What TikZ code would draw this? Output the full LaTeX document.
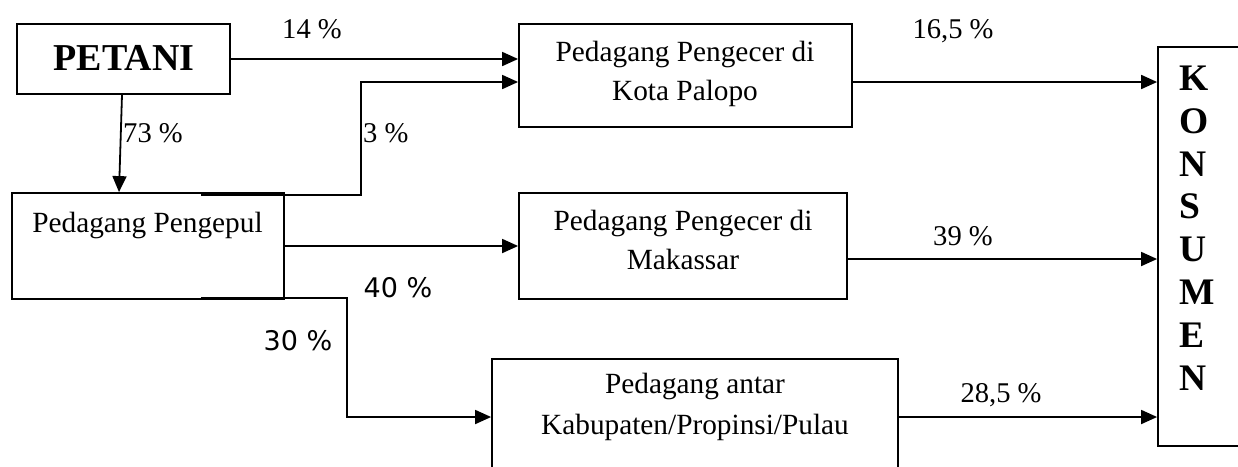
\documentclass[tikz,border=0pt]{standalone}
\usepackage{fontspec}
\setmainfont{Liberation Serif}
\newfontfamily\sansf{DejaVu Sans}
\usetikzlibrary{arrows.meta,calc}
\tikzset{
  box/.style={draw, line width=1.8pt, rectangle, inner sep=0pt},
  conn/.style={line width=1.8pt},
  arr/.style={conn, -{Triangle[length=16pt,width=14pt]}},
  txt/.style={inner sep=0pt, font=\fontsize{28.6}{34}\selectfont},
  btext/.style={inner sep=0pt, font=\fontsize{29.3}{34}\selectfont},
  stxt/.style={inner sep=0pt, font=\sansf\fontsize{27}{32}\selectfont},
  btxt/.style={inner sep=0pt, font=\bfseries\fontsize{37.5}{42.9}\selectfont},
}
\begin{document}
\begin{tikzpicture}[x=1pt,y=-1pt]
\useasboundingbox (0,0) rectangle (1238,466);
\clip (0,0) rectangle (1238,466);
% boxes
\node[box, minimum width=213pt, minimum height=70pt] (petani) at (123.5,59) {};
\node[box, minimum width=272pt, minimum height=106pt] (pengepul) at (148,246) {};
\node[box, minimum width=333pt, minimum height=103pt] (kota) at (685.5,75.5) {};
\node[box, minimum width=328pt, minimum height=106pt] (makassar) at (683,246) {};
\node[box, minimum width=406pt, minimum height=121pt] (antar) at (695,419.5) {};
\node[box, minimum width=92pt, minimum height=399pt] (konsumen) at (1204,246.5) {};
% box texts
\node[inner sep=0pt, anchor=base, font=\bfseries\fontsize{38}{40}\selectfont] (tpetani) at (124,70) {PETANI};
\node[btext, anchor=base] (tpengepul) at (147.5,232) {Pedagang Pengepul};
\node[btext, anchor=base] (tkota1) at (685,61) {Pedagang Pengecer di};
\node[btext, anchor=base] (tkota2) at (685,100) {Kota Palopo};
\node[btext, anchor=base] (tmak1) at (683,230) {Pedagang Pengecer di};
\node[btext, anchor=base] (tmak2) at (683,269) {Makassar};
\node[btext, anchor=base] (tantar1) at (695,393) {Pedagang antar};
\node[btext, anchor=base] (tantar2) at (695,434) {Kabupaten/Propinsi/Pulau};
\node[btxt, anchor=north west, align=left] (tkons) at (1179,65.5) {K\\O\\N\\S\\U\\M\\E\\N};
% connectors
\draw[arr] (petani.east) -- (petani.east -| kota.west);
\draw[arr] ([xshift=-1.5pt]petani.south) -- ([xshift=-29pt]pengepul.north);
\coordinate (s3) at ([xshift=-84pt,yshift=-3pt]pengepul.north east);
\draw[arr] (s3) -- ++(160,0) |- ([yshift=-6.5pt]kota.west);
\draw[arr] (pengepul.east) -- (makassar.west);
\coordinate (s30) at ([xshift=-84pt,yshift=2pt]pengepul.south east);
\draw[arr] (s30) -- ++(146,0) |- ([yshift=2.5pt]antar.west);
\draw[arr] ([yshift=-6.5pt]kota.east) -- ([yshift=-6.5pt]kota.east -| konsumen.west);
\draw[arr] ([yshift=-13pt]makassar.east) -- ([yshift=-13pt]makassar.east -| konsumen.west);
\draw[arr] ([yshift=2.5pt]antar.east) -- ([yshift=2.5pt]antar.east -| konsumen.west);
% labels
\node[txt, anchor=base] (l14) at (312,38) {14 \%};
\node[txt, anchor=base west] (l73) at (123,142) {73 \%};
\node[txt, anchor=base west] (l3) at (363,142) {3 \%};
\node[txt, anchor=base] (l165) at (953,38) {16,5 \%};
\node[txt, anchor=base] (l39) at (963,245) {39 \%};
\node[txt, anchor=base] (l285) at (1001,402) {28,5 \%};
\node[stxt, anchor=base] (l40) at (398,297) {40 \%};
\node[stxt, anchor=base] (l30) at (298,350) {30 \%};
\end{tikzpicture}
\end{document}
